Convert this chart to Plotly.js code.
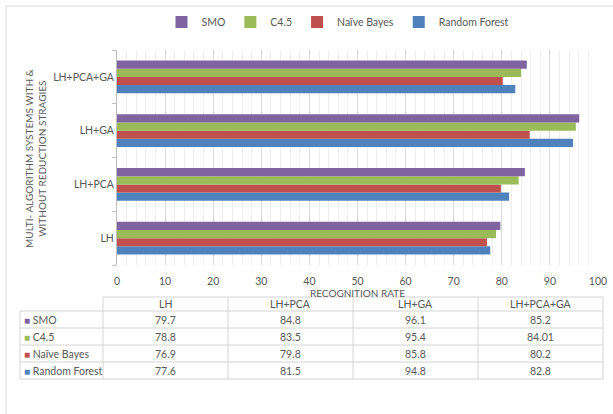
<!DOCTYPE html>
<html>
<head>
<meta charset="utf-8">
<script src="https://cdn.plot.ly/plotly-3.0.1.min.js"></script>
<style>html,body{margin:0;padding:0;background:#fff;}#chart{width:613px;height:414px;}</style>
</head>
<body>
<div id="chart"></div>
<script>
// ---- data ----
const categories = ["LH", "LH+PCA", "LH+GA", "LH+PCA+GA"];
const seriesNames = ["SMO", "C4.5", "Naïve Bayes", "Random Forest"];
const smo = [79.7, 84.8, 96.1, 85.2];
const c45 = [78.8, 83.5, 95.4, 84.01];
const naiveBayes = [76.9, 79.8, 85.8, 80.2];
const randomForest = [77.6, 81.5, 94.8, 82.8];
const xTickVals = [0, 10, 20, 30, 40, 50, 60, 70, 80, 90, 100];

const colors = {"SMO": "#8064A2", "C4.5": "#9BBB59", "Naïve Bayes": "#C0504D", "Random Forest": "#4F81BD"};
const seriesValues = [smo, c45, naiveBayes, randomForest];

const W = 613, H = 414;
const px = v => v / W;
const py = v => (H - v) / H;
const FONT = "Lato, 'Liberation Sans', sans-serif";
const TXT = "#595959";

// bar traces: bottom of group first (Random Forest) up to SMO on top
const traces = [];
for (let i = seriesNames.length - 1; i >= 0; i--) {
  traces.push({
    type: "bar", orientation: "h",
    name: seriesNames[i], y: categories, x: seriesValues[i],
    marker: {color: colors[seriesNames[i]], line: {width: 0}},
    hoverinfo: "x+name"
  });
}

// ---- data table (drawn under the chart, built from the arrays) ----
const border = "#d4d4d4";
const colEdges = [20, 103, 228, 353, 478, 603];   // pixel layout of table columns
const rowEdges = [297, 311, 328, 345, 362, 379];  // pixel layout of table rows
const shapes = [
  {type: "line", xref: "paper", yref: "paper", x0: px(6), x1: 1, y0: py(6), y1: py(6), line: {color: "#d9d9d9", width: 1}},
  {type: "line", xref: "paper", yref: "paper", x0: px(6), x1: px(6), y0: py(6), y1: 0, line: {color: "#d9d9d9", width: 1}}
];
const annotations = [{
  xref: "paper", yref: "paper", x: px(35), y: py(158),
  text: "MULTI- ALGORITHM SYSTEMS WITH &<br>WITHOUT REDUCTION STRAGIES",
  textangle: -90, showarrow: false, xanchor: "center", yanchor: "middle",
  font: {family: FONT, size: 10, color: TXT}
}];
// horizontal lines
rowEdges.forEach((y, r) => {
  const x0 = r === 0 ? colEdges[1] : colEdges[0];
  shapes.push({type: "line", xref: "paper", yref: "paper", x0: px(x0), x1: px(colEdges[colEdges.length - 1]),
    y0: py(y), y1: py(y), line: {color: border, width: 1}});
});
// vertical lines
colEdges.forEach((x, c) => {
  const y0 = c === 0 ? rowEdges[1] : rowEdges[0];
  shapes.push({type: "line", xref: "paper", yref: "paper", x0: px(x), x1: px(x),
    y0: py(y0), y1: py(rowEdges[rowEdges.length - 1]), line: {color: border, width: 1}});
});
const tf = {family: FONT, size: 10.5, color: TXT};
// header
categories.forEach((c, j) => {
  annotations.push({xref: "paper", yref: "paper", showarrow: false,
    x: px((colEdges[j + 1] + colEdges[j + 2]) / 2), y: py((rowEdges[0] + rowEdges[1]) / 2),
    xanchor: "center", yanchor: "middle", text: c, font: tf});
});
// body
seriesNames.forEach((n, i) => {
  const yc = py((rowEdges[i + 1] + rowEdges[i + 2]) / 2);
  annotations.push({xref: "paper", yref: "paper", showarrow: false,
    x: px(colEdges[0] + 2), y: yc, xanchor: "left", yanchor: "middle",
    text: '<span style="color:' + colors[n] + ';font-size:10px">■</span> ' + n, font: tf});
  seriesValues[i].forEach((v, j) => {
    annotations.push({xref: "paper", yref: "paper", showarrow: false,
      x: px((colEdges[j + 1] + colEdges[j + 2]) / 2), y: yc, xanchor: "center", yanchor: "middle",
      text: String(v), font: tf});
  });
});

const layout = {
  width: W, height: H,
  margin: {l: 0, r: 0, t: 0, b: 0, pad: 0},
  paper_bgcolor: "white", plot_bgcolor: "white",
  font: {family: FONT, size: 10, color: TXT},
  barmode: "group", bargap: 0.39, bargroupgap: 0,
  showlegend: true,
  legend: {
    orientation: "h", traceorder: "reversed",
    x: px(338), xanchor: "center", y: py(22), yanchor: "middle",
    font: {family: FONT, size: 10.5, color: TXT},
    itemwidth: 30
  },
  xaxis: {
    domain: [px(117), px(598)],
    range: [0, 100], tickvals: xTickVals,
    showgrid: true, gridcolor: "#d9d9d9", gridwidth: 1,
    minor: {dtick: 2, showgrid: true, gridcolor: "#eeeeee", gridwidth: 1},
    zeroline: false, showline: false, ticks: "",
    ticklabelstandoff: 8,
    tickfont: {family: FONT, size: 10.5, color: TXT},
    title: {text: "RECOGNITION RATE", font: {family: FONT, size: 10, color: TXT}, standoff: 0},
    automargin: false, fixedrange: true
  },
  yaxis: {
    domain: [py(265), py(50)],
    type: "category", categoryorder: "array", categoryarray: categories,
    range: [-0.5, 3.5],
    showgrid: false, zeroline: false,
    showline: true, linecolor: "#bfbfbf", linewidth: 1,
    ticks: "outside", tickson: "boundaries", ticklen: 4, tickcolor: "#bfbfbf",
    tickfont: {family: FONT, size: 10.5, color: TXT},
    automargin: false, fixedrange: true
  },
  annotations: annotations,
  shapes: shapes
};

Plotly.newPlot("chart", traces, layout, {displayModeBar: false, staticPlot: true});
</script>
</body>
</html>
